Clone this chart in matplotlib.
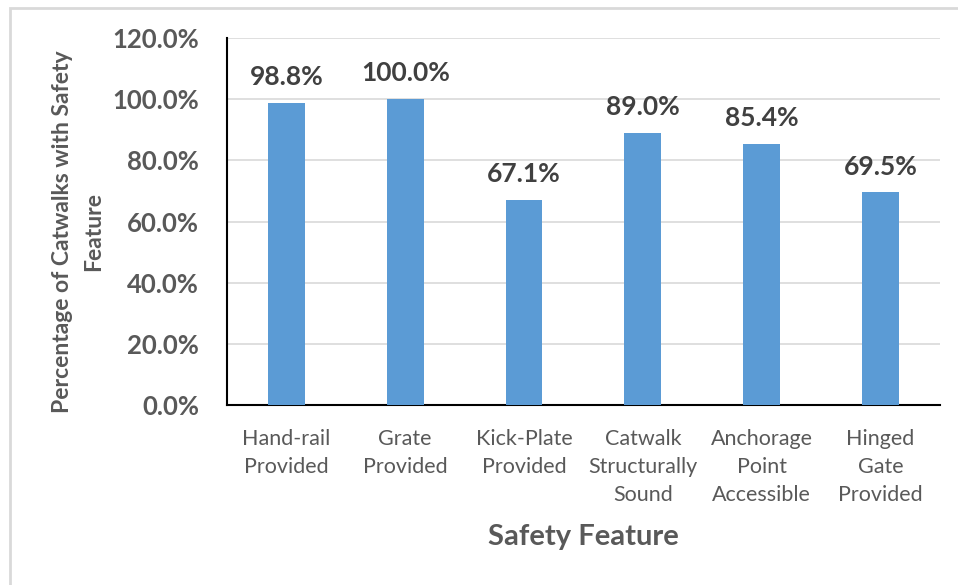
import numpy as np
import matplotlib.pyplot as plt
from matplotlib.patches import Rectangle

# data
features = ["Hand-rail\nProvided", "Grate\nProvided", "Kick-Plate\nProvided",
            "Catwalk\nStructurally\nSound", "Anchorage\nPoint\nAccessible",
            "Hinged\nGate\nProvided"]
pct = [98.8, 100.0, 67.1, 89.0, 85.4, 69.5]
yticks = [0, 20, 40, 60, 80, 100, 120]

plt.rcParams['font.family'] = ['Lato', 'DejaVu Sans']

fig = plt.figure(figsize=(9.58, 5.85), dpi=100)
ax = fig.add_axes([0.237, 0.3077, 0.744, 0.6273])

# chart border (cropped excel chart area)
fig.patches.append(Rectangle((10/958, -0.1), 1.2, 1 - 8/585 + 0.1,
                             transform=fig.transFigure, fill=False,
                             edgecolor='#D9D9D9', linewidth=2))

x = np.arange(len(features))
ax.bar(x, pct, width=0.31, color='#5B9BD5', zorder=3)

for xi, v in zip(x, pct):
    ax.annotate(f"{v:.1f}%", (xi, v), xytext=(0, 10), textcoords='offset points',
                ha='center', va='bottom', fontsize=19, fontweight='bold',
                color='#404040')

ax.set_xlim(-0.5, len(features) - 0.5)
ax.set_ylim(0, 120)
ax.set_yticks(yticks)
ax.set_yticklabels([f"{t:.1f}%" for t in yticks], fontsize=18.5,
                   fontweight='bold', color='#595959')
ax.set_xticks(x)
ax.set_xticklabels(features, fontsize=15.5, color='#595959', linespacing=1.5)
ax.tick_params(axis='both', length=0)
ax.tick_params(axis='y', pad=20)
ax.tick_params(axis='x', pad=17)
ax.grid(axis='y', color='#D9D9D9', linewidth=1.2, zorder=0)
for s in ['top', 'right']:
    ax.spines[s].set_visible(False)
ax.spines['left'].set_linewidth(1.5)
ax.spines['bottom'].set_linewidth(1.5)

fig.text(583/958, 1 - 537/585, "Safety Feature", ha='center', va='center',
         fontsize=21, fontweight='bold', color='#595959')
fig.text(78/958, 1 - 232/585, "Percentage of Catwalks with Safety\nFeature",
         rotation=90, ha='center', va='center', multialignment='center',
         fontsize=16.5, fontweight='bold', color='#595959', linespacing=1.55)

fig.savefig("out.png", dpi=100)
